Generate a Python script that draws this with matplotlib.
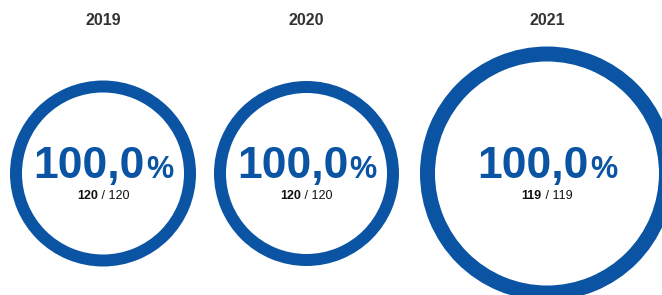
import matplotlib
matplotlib.use("Agg")
import matplotlib.pyplot as plt
from matplotlib.patches import Wedge

years = ["2019", "2020", "2021"]
achieved = [120, 120, 119]
total = [120, 120, 119]
percent = [100.0, 100.0, 100.0]

# layout (pixel units)
centers_x = [103, 306.5, 547]
center_y = 173.5
outer_r = [93, 92.5, 127]
ring_w = [12, 12, 15]

BLUE = "#0B54A4"
FONT = "Liberation Sans"

fig = plt.figure(figsize=(6.62, 2.95), dpi=100)
ax = fig.add_axes([0, 0, 1, 1])
ax.set_xlim(0, 662)
ax.set_ylim(295, 0)
ax.axis("off")

renderer = fig.canvas.get_renderer()

def width_of(t):
    return t.get_window_extent(renderer=renderer).width

for i, yr in enumerate(years):
    cx = centers_x[i]
    frac = achieved[i] / total[i]
    ax.add_patch(Wedge((cx, center_y), outer_r[i], 90 - 360 * frac, 90,
                       width=ring_w[i], facecolor=BLUE, edgecolor="none"))
    ax.text(cx, 25, yr, ha="center", va="baseline", fontsize=11.5,
            fontweight="bold", color="#333333", family=FONT)

    # big percentage
    num = f"{percent[i]:.1f}".replace(".", ",")
    t1 = ax.text(0, 178, num, ha="left", va="baseline", fontsize=32,
                 fontweight="bold", color=BLUE, family=FONT)
    t2 = ax.text(0, 178, "%", ha="left", va="baseline", fontsize=22,
                 fontweight="bold", color=BLUE, family=FONT)
    w1, w2 = width_of(t1), width_of(t2)
    start = cx - (w1 + w2) / 2
    t1.set_x(start)
    t2.set_x(start + w1 + 1)

    # sub label
    s1 = ax.text(0, 199, f"{achieved[i]}", ha="left", va="baseline",
                 fontsize=9, fontweight="bold", color="#111111", family=FONT)
    s2 = ax.text(0, 199, f" / {total[i]}", ha="left", va="baseline",
                 fontsize=9, color="#111111", family=FONT)
    v1, v2 = width_of(s1), width_of(s2)
    st = cx - (v1 + v2) / 2
    s1.set_x(st)
    s2.set_x(st + v1)

fig.savefig("out.png", dpi=100)
